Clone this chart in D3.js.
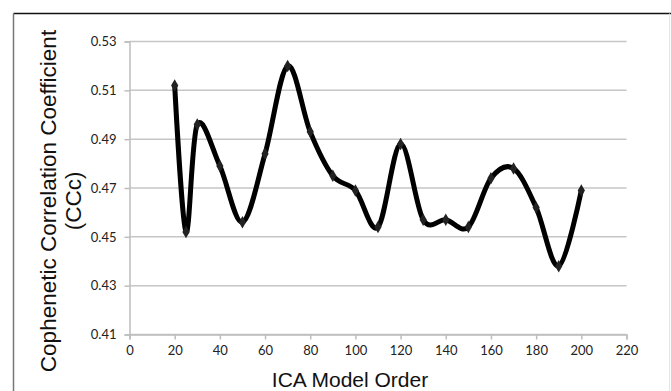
<!DOCTYPE html>
<html>
<head>
<meta charset="utf-8">
<script src="https://cdn.jsdelivr.net/npm/d3@7"></script>
<style>
    body { margin: 0; background: #fff; }
    svg { display: block; }
</style>
</head>
<body>
<svg id="chart"></svg>
<script>
// ICA model order vs cophenetic correlation coefficient
const modelOrders = [20, 25, 30, 40, 50, 60, 70, 80, 90, 100, 110, 120, 130, 140, 150, 160, 170, 180, 190, 200]
const ccValues = [0.512, 0.452, 0.496, 0.479, 0.456, 0.484, 0.520, 0.493, 0.475, 0.469, 0.454, 0.488, 0.457, 0.457, 0.454, 0.474, 0.478, 0.462, 0.438, 0.469]
const xTicks = [0, 20, 40, 60, 80, 100, 120, 140, 160, 180, 200, 220]
const yTicks = [0.41, 0.43, 0.45, 0.47, 0.49, 0.51, 0.53]

const width = 671
const height = 391
const margins = {left: 129.5, right: 44.5, top: 41.5, bottom: 56.5}

const svg = d3.select("#chart").attr("width", width).attr("height", height)

// outer frame
svg.append("line").attr("x1", 13.5).attr("x2", width).attr("y1", 13.5).attr("y2", 13.5)
    .attr("stroke", "#111").attr("stroke-width", 1.5)
svg.append("line").attr("x1", 13.5).attr("x2", 13.5).attr("y1", 13.5).attr("y2", height)
    .attr("stroke", "#777").attr("stroke-width", 1.5)
svg.append("line").attr("x1", 669.5).attr("x2", 669.5).attr("y1", 13.5).attr("y2", height)
    .attr("stroke", "#e4e4e4").attr("stroke-width", 1)

const scaleX = d3.scaleLinear().domain([0, 220]).range([margins.left, width - margins.right])
const scaleY = d3.scaleLinear().domain([0.41, 0.53]).range([height - margins.bottom, margins.top])

// gridlines
svg.append("g").selectAll("line")
    .data(yTicks)
    .join("line")
    .attr("x1", scaleX(0)).attr("x2", scaleX(220))
    .attr("y1", d => scaleY(d)).attr("y2", d => scaleY(d))
    .attr("stroke", "#c6c6c6").attr("stroke-width", 1.5)

// axes
let xAxis = d3.axisBottom(scaleX).tickValues(xTicks).tickSize(5).tickPadding(6).tickFormat(d3.format("d"))
let yAxis = d3.axisLeft(scaleY).tickValues(yTicks).tickSize(5).tickPadding(8).tickFormat(d3.format(".2f"))

let xg = svg.append("g").attr("transform", `translate(0, ${scaleY(0.41)})`).call(xAxis)
let yg = svg.append("g").attr("transform", `translate(${scaleX(0)}, 0)`).call(yAxis)

for (let g of [xg, yg]) {
    g.select(".domain").attr("stroke", "#bdbdbd").attr("stroke-width", 1.5)
    g.selectAll(".tick line").attr("stroke", "#bdbdbd").attr("stroke-width", 1.5)
    g.selectAll(".tick text")
        .attr("fill", "#222")
        .style("font-family", "Lato, 'Open Sans', sans-serif")
        .style("font-size", "13px")
}

// smoothed line
let lineGenerator = d3.line()
    .x((d, i) => scaleX(modelOrders[i]))
    .y(d => scaleY(d))
    .curve(d3.curveCardinal.tension(0))

svg.append("path")
    .datum(ccValues)
    .attr("d", lineGenerator)
    .attr("fill", "none")
    .attr("stroke", "#000")
    .attr("stroke-width", 5)
    .attr("stroke-linejoin", "round")
    .attr("stroke-linecap", "round")

svg.append("g").selectAll("path")
    .data(ccValues)
    .join("path")
    .attr("d", d3.symbol(d3.symbolDiamond, 45))
    .attr("transform", (d, i) => `translate(${scaleX(modelOrders[i])}, ${scaleY(d)})`)
    .attr("fill", "#222")

// axis titles
svg.append("text")
    .attr("x", 350).attr("y", 387)
    .attr("text-anchor", "middle")
    .style("font-family", "'Liberation Sans', Arial, sans-serif")
    .style("font-size", "21px")
    .attr("fill", "#111")
    .text("ICA Model Order")

let yTitle = svg.append("text")
    .attr("transform", `translate(0, ${(scaleY(0.41) + scaleY(0.53)) / 2 + 13}) rotate(-90)`)
    .attr("text-anchor", "middle")
    .style("font-family", "'Liberation Sans', Arial, sans-serif")
    .style("font-size", "22.5px")
    .attr("fill", "#111")
yTitle.append("tspan").attr("x", 0).attr("y", 56).text("Cophenetic Correlation Coefficient")
yTitle.append("tspan").attr("x", 0).attr("y", 81).text("(CCc)")
</script>
</body>
</html>
